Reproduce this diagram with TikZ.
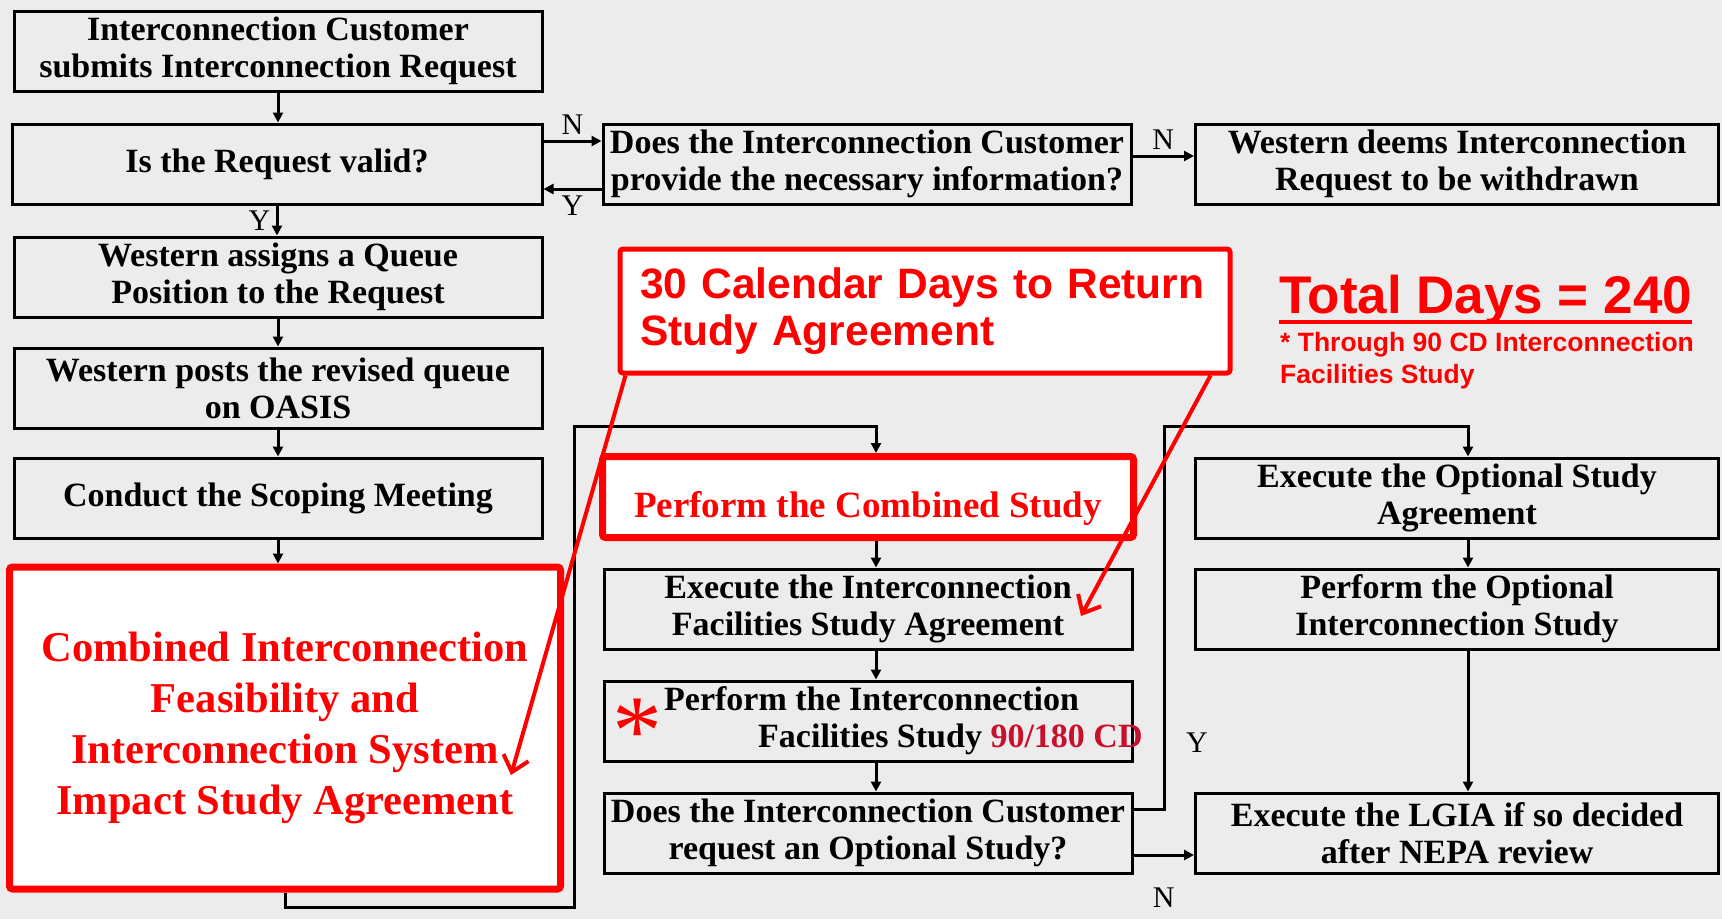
\documentclass[tikz,border=0pt]{standalone}
\usepackage{fontspec}
\setmainfont{Liberation Serif}
\setsansfont{Liberation Sans}
\usetikzlibrary{arrows.meta}
\definecolor{bg}{RGB}{236,236,236}
\definecolor{cdred}{RGB}{200,16,46}
\tikzset{
  flowbox/.style={draw, line width=3pt, fill=bg, minimum height=80pt, inner sep=0pt, align=center,
    font=\bfseries\fontsize{34}{37}\selectfont},
  redbox/.style={draw=red, line width=7pt, fill=white, rounded corners=3pt, text=red, inner sep=0pt},
  yn/.style={font=\fontsize{30}{30}\selectfont},
  flowarrow/.style={line width=3pt, -{Triangle[length=10pt,width=10pt]}},
  redarrow/.style={red, line width=4pt, -{Straight Barb[length=15pt,width=26pt]}},
}
\begin{document}
\begin{tikzpicture}[x=1pt,y=-1pt]
\fill[bg] (0,0) rectangle (1722,919);
% left column
\node[flowbox, minimum width=528pt] (req) at (278,51) {Interconnection Customer\\submits Interconnection Request};
\node[flowbox, minimum width=530pt] (valid) at (277,164) {Is the Request valid?};
\node[flowbox, minimum width=528pt] (queue) at (278,277) {Western assigns a Queue\\Position to the Request};
\node[flowbox, minimum width=528pt] (oasis) at (278,388) {Western posts the revised queue\\on OASIS};
\node[flowbox, minimum width=528pt] (scope) at (278,498) {Conduct the Scoping Meeting};
\node[redbox, minimum width=551pt, minimum height=322pt, align=center,
  font=\bfseries\fontsize{42.5}{51}\selectfont] (combo) at (285,728)
  {Combined Interconnection\\Feasibility and\\Interconnection System\\Impact Study Agreement};
% middle column
\node[flowbox, minimum width=528pt] (info) at (867,164) {Does the Interconnection Customer\\provide the necessary information?};
\node[redbox, line width=5pt, text width=570pt, inner xsep=20pt, minimum height=124pt, align=left,
  font=\sffamily\bfseries\fontsize{42.5}{47}\selectfont] (cal) at (925,311) {30 Calendar Days to Return\\Study Agreement};
\node[redbox, minimum width=531pt, minimum height=81pt, font=\bfseries\fontsize{37}{40}\selectfont] (comb) at (868,497)
  {\raisebox{-11pt}[\height][\depth]{Perform the Combined Study}};
\node[flowbox, minimum width=528pt] (fsa) at (868,609) {Execute the Interconnection\\Facilities Study Agreement};
\node[flowbox, minimum width=528pt] (fs) at (868,721) {};
\node[font=\bfseries\fontsize{34}{37}\selectfont, align=left, anchor=west, inner sep=0pt] (fstext) at (664,721)
  {Perform the Interconnection\\\hspace*{94pt}Facilities Study \textcolor{cdred}{90/180 CD}};
\node[text=red, font=\fontsize{100}{100}\selectfont, inner sep=0pt] (star) at (637,732) {*};
\node[flowbox, minimum width=528pt] (opt) at (868,833) {Does the Interconnection Customer\\request an Optional Study?};
% right column
\node[flowbox, minimum width=523pt] (wd) at (1457,164) {Western deems Interconnection\\Request to be withdrawn};
\node[flowbox, minimum width=523pt] (osa) at (1457,498) {Execute the Optional Study\\Agreement};
\node[flowbox, minimum width=523pt] (os) at (1457,609) {Perform the Optional\\Interconnection Study};
\node[flowbox, minimum width=523pt] (lgia) at (1457,833) {Execute the LGIA if so decided\\after NEPA review};
% totals
\node[text=red, font=\sffamily\bfseries\fontsize{53}{53}\selectfont, anchor=base west, inner sep=0pt] (total) at (1279,313) {Total Days = 240};
\draw[red, line width=4pt] ([yshift=-9pt]total.base west) -- ([yshift=-9pt]total.base east);
\node[text=red, font=\sffamily\bfseries\fontsize{26.5}{32}\selectfont, align=left, anchor=north west, inner sep=0pt] (through) at (1280,332)
  {* Through 90 CD Interconnection\\Facilities Study};
% connectors
\draw[flowarrow] (req.south) -- (req.south |- valid.north);
\draw[flowarrow] (valid.south) -- (valid.south |- queue.north) node[yn, midway, left=2pt] {Y};
\draw[flowarrow] (queue.south) -- (queue.south |- oasis.north);
\draw[flowarrow] (oasis.south) -- (oasis.south |- scope.north);
\draw[flowarrow] (scope.south) -- (scope.south |- combo.north);
\draw[flowarrow] ([yshift=23pt]valid.east) -- ([yshift=23pt]valid.east -| info.west) node[yn, midway, above=2pt] {N};
\draw[flowarrow] ([yshift=-25pt]info.west) -- ([yshift=-25pt]info.west -| valid.east) node[yn, midway, below=2pt] {Y};
\draw[flowarrow] ([yshift=8pt]info.east) -- ([yshift=8pt]info.east -| wd.west) node[yn, midway, above=2pt] {N};
\draw[flowarrow] (combo.south) |- (574,907) -- (574,426) -| ([xshift=8pt]comb.north);
\draw[flowarrow] ([xshift=8pt]comb.south) -- ([xshift=8pt]fsa.north);
\draw[flowarrow] ([xshift=8pt]fsa.south) -- ([xshift=8pt]fs.north);
\draw[flowarrow] ([xshift=8pt]fs.south) -- ([xshift=8pt]opt.north);
\draw[flowarrow] ([yshift=24pt]opt.east) -| (1164,426) -| ([xshift=11pt]osa.north);
\node[yn] (yopt) at (1197,743) {Y};
\draw[flowarrow] ([yshift=-22pt]opt.east) -- ([yshift=-22pt]opt.east -| lgia.west) node[yn, midway, below=28pt] {N};
\draw[flowarrow] ([xshift=11pt]osa.south) -- ([xshift=11pt]os.north);
\draw[flowarrow] ([xshift=11pt]os.south) -- ([xshift=11pt]lgia.north);
% notes
\coordinate (tipA) at (511,775);
\coordinate (tipB) at (1081,616);
\draw[redarrow] ([xshift=8pt]cal.south west) -- (tipA);
\draw[redarrow] ([xshift=-22pt]cal.south east) -- (tipB);
\end{tikzpicture}
\end{document}
